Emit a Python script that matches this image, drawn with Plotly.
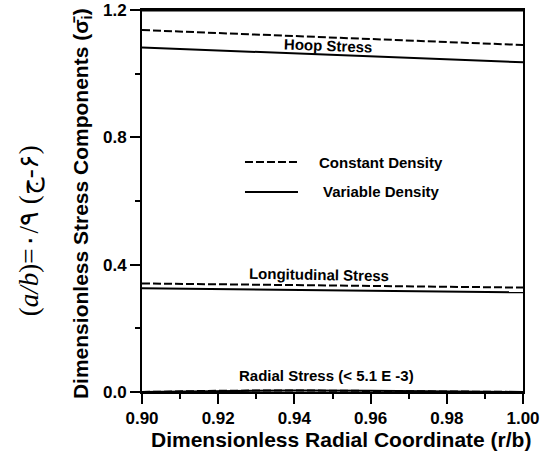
import plotly.graph_objects as go

# dimensionless radial coordinate r/b
r = [0.90, 0.92, 0.94, 0.96, 0.98, 1.00]

# hoop stress
hoop_const = [1.137, 1.128, 1.118, 1.109, 1.099, 1.090]
hoop_var = [1.082, 1.073, 1.064, 1.055, 1.045, 1.036]

# longitudinal stress
long_const = [0.341, 0.338, 0.336, 0.333, 0.331, 0.328]
long_var = [0.326, 0.323, 0.321, 0.318, 0.316, 0.313]

# radial stress (very small)
rad_const = [0.0, 0.004, 0.005, 0.004, 0.003, 0.0]
rad_var = [0.0, 0.003, 0.005, 0.004, 0.002, 0.0]

x_ticks = [0.90, 0.92, 0.94, 0.96, 0.98, 1.00]
x_ticklabels = ['0.90', '0.92', '0.94', '0.96', '0.98', '1.00']
y_ticks = [0.0, 0.4, 0.8, 1.2]
y_ticklabels = ['0.0', '0.4', '0.8', '1.2']

SANS = 'Arial, Liberation Sans, sans-serif'
DASH = '8px,3px'
BOLD = lambda s: dict(family=SANS, size=s, color='black', weight='bold')

fig = go.Figure()
for ys, dash in [(hoop_const, DASH), (hoop_var, 'solid'),
                 (long_const, DASH), (long_var, 'solid'),
                 (rad_const, DASH), (rad_var, 'solid')]:
    fig.add_trace(go.Scatter(
        x=r, y=ys, mode='lines',
        line=dict(color='black', width=2, dash=dash),
        showlegend=False,
        hoverinfo='skip',
    ))

# top edge of the frame, drawn as a shape so it always shows
fig.add_shape(type='line', xref='paper', yref='paper', x0=0, x1=1, y0=1, y1=1,
              line=dict(color='black', width=3))

# legend drawn by hand
legend_items = [('Constant Density', DASH, 0.602, 0.4593),
                ('Variable Density', 'solid', 0.5236, 0.4698)]
for name, dash, yp, xt in legend_items:
    fig.add_shape(type='line', xref='paper', yref='paper',
                  x0=0.2703, x1=0.4094, y0=yp, y1=yp,
                  line=dict(color='black', width=2, dash=dash))
    fig.add_annotation(xref='paper', yref='paper', x=xt, y=yp,
                       text=name, showarrow=False, xanchor='left', yanchor='middle',
                       font=BOLD(15))

labels = [
    ('Hoop Stress', 0.9488, 1.087, 2),
    ('Longitudinal Stress', 0.9465, 0.368, 1),
    ('Radial Stress (< 5.1 E -3)', 0.9483, 0.053, 0),
]
for text, xv, yv, ang in labels:
    fig.add_annotation(x=xv, y=yv, text=text, showarrow=False, textangle=ang,
                       xanchor='center', yanchor='middle', font=BOLD(15))

# axis titles
fig.add_annotation(xref='paper', yref='paper', x=0.522, y=0, yshift=-47,
                   text='Dimensionless Radial Coordinate (r/b)', showarrow=False,
                   xanchor='center', yanchor='middle', font=BOLD(21))
fig.add_annotation(xref='paper', yref='paper', x=0, y=0.492, xshift=-60,
                   text='Dimensionless Stress Components (σ\u0304<sub>i</sub>)', showarrow=False,
                   textangle=-90, xanchor='center', yanchor='middle', font=BOLD(21))

# persian side label (left-to-right override keeps the glyph order)
fig.add_annotation(xref='paper', yref='paper', x=0, y=0.421, xshift=-113,
                   text='\u202d(<i>a/b</i>)=٠/٩ (ج-۶)\u202c', showarrow=False,
                   textangle=-90, xanchor='center', yanchor='middle',
                   font=dict(family='Liberation Serif, Times New Roman, serif',
                             size=27, color='black'))

axis_common = dict(
    showgrid=False, zeroline=False, automargin=False,
    showline=True, linecolor='black', linewidth=2, mirror=True,
    ticks='outside', ticklen=10, tickwidth=2, tickcolor='black',
    ticklabeloverflow='allow',
    tickfont=BOLD(17),
)

fig.update_layout(
    width=542, height=451,
    margin=dict(l=142, r=19, t=10, b=59),
    plot_bgcolor='white', paper_bgcolor='white',
    showlegend=False,
    xaxis=dict(
        range=[0.9, 1.0], tickvals=x_ticks, ticktext=x_ticklabels,
        minor=dict(ticks='outside', ticklen=5, tickwidth=2, tickcolor='black', dtick=0.01, tick0=0.9),
        **axis_common,
    ),
    yaxis=dict(
        range=[0, 1.2], tickvals=y_ticks, ticktext=y_ticklabels,
        minor=dict(ticks='outside', ticklen=5, tickwidth=2, tickcolor='black', dtick=0.2, tick0=0),
        **axis_common,
    ),
)

# drop the default 8px page margin so the figure fills the window
fig.write_html('out.html', config={'displayModeBar': False},
               post_script="document.body.style.margin='0';")
